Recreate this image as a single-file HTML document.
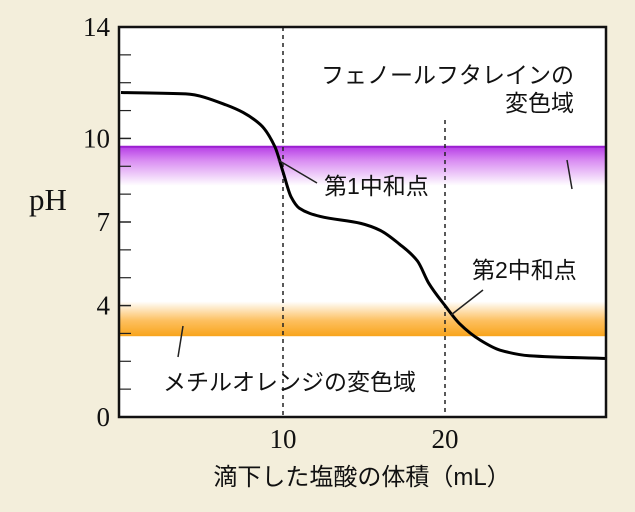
<!DOCTYPE html>
<html><head><meta charset="utf-8"><style>
html,body{margin:0;padding:0;background:#f3eedb;}
svg{display:block;}
.j{font-family:"Liberation Sans","Noto Sans CJK JP",sans-serif;font-size:23px;fill:#111;}
.s{font-family:"Liberation Serif","DejaVu Serif",serif;font-size:27px;fill:#111;}
</style></head><body>
<svg id="c" width="635" height="512" viewBox="0 0 635 512">
<defs>
<linearGradient id="pg" x1="0" y1="0" x2="0" y2="1"><stop offset="0" stop-color="#b73ee6"/><stop offset="0.35" stop-color="#d98cf2"/><stop offset="1" stop-color="#ffffff"/></linearGradient>
<linearGradient id="og" x1="0" y1="0" x2="0" y2="1"><stop offset="0" stop-color="#ffffff"/><stop offset="0.55" stop-color="#fdc060"/><stop offset="1" stop-color="#f8a41c"/></linearGradient>
</defs>
<g id="plot"></g>
</svg>
<script>
const volumes=[0,4,6.5,8.6,9.5,10,10.5,11,12.3,14.8,16,17.2,18.3,19,20,20.9,22.2,23.4,25.2,30];
const phValues=[11.65,11.6,11.2,10.5,9.7,8.8,7.9,7.5,7.2,6.95,6.7,6.2,5.6,4.8,4.0,3.35,2.75,2.4,2.2,2.1];
const yTickLabels=["0","4","7","10","14"];
const xTickLabels=["10","20"];
const phenolRange=[8.3,9.7];
const methylRange=[2.9,4.0];
const X0=121,X1=607,Y0=417,Y1=27;
const xs=v=>X0+(X1-X0)*v/30;
const ys=p=>Y0-(Y0-Y1)*p/14;
const NS="http://www.w3.org/2000/svg";
const g=document.getElementById('plot');
function mk(t,a,p){const e=document.createElementNS(NS,t);for(const k in a)e.setAttribute(k,a[k]);(p||g).appendChild(e);return e;}
let e;
e=mk('rect',{x:119,y:27,width:487,height:390,fill:'#fff'});

e=mk('rect',{x:119,y:ys(phenolRange[1]),width:487,height:ys(phenolRange[0])-ys(phenolRange[1]),fill:'url(#pg)'});

e=mk('line',{x1:119,x2:606,y1:ys(phenolRange[1]),y2:ys(phenolRange[1]),stroke:'#9b1fd0','stroke-width':2});

e=mk('rect',{x:119,y:ys(methylRange[1]+0.15),width:487,height:ys(methylRange[0])-ys(methylRange[1]+0.15),fill:'url(#og)'});

e=mk('line',{x1:xs(10),x2:xs(10),y1:27,y2:417,stroke:'#222','stroke-width':1.5,'stroke-dasharray':'4,4'});

e=mk('line',{x1:xs(20),x2:xs(20),y1:120,y2:417,stroke:'#222','stroke-width':1.5,'stroke-dasharray':'4,4'});

for(let p=1;p<14;p++){if([4,7,10].includes(p))continue;
 e=mk('line',{x1:119,x2:131,y1:ys(p),y2:ys(p),stroke:'#222','stroke-width':1.2});
 }
yTickLabels.forEach(l=>{const p=+l;
 e=mk('line',{x1:119,x2:131,y1:ys(p),y2:ys(p),stroke:'#222','stroke-width':1.5});
 
 e=mk('text',{x:110,y:ys(p)+9,'text-anchor':'end',class:'s'});e.textContent=l;
 });
xTickLabels.forEach(l=>{e=mk('text',{x:xs(+l),y:448,'text-anchor':'middle',class:'s'});e.textContent=l;
 });
// monotone cubic curve
const P=volumes.map((v,i)=>[xs(v),ys(phValues[i])]);
const n=P.length,dk=[],m=[];
for(let i=0;i<n-1;i++)dk.push((P[i+1][1]-P[i][1])/(P[i+1][0]-P[i][0]));
m[0]=dk[0];m[n-1]=dk[n-2];
for(let i=1;i<n-1;i++){if(dk[i-1]*dk[i]<=0)m[i]=0;else{const h0=P[i][0]-P[i-1][0],h1=P[i+1][0]-P[i][0];
 const w1=2*h1+h0,w2=h1+2*h0;m[i]=(w1+w2)/(w1/dk[i-1]+w2/dk[i]);}}
let d='M'+P[0][0]+','+P[0][1];
for(let i=0;i<n-1;i++){const h=(P[i+1][0]-P[i][0])/3;
 d+=` C${P[i][0]+h},${P[i][1]+m[i]*h} ${P[i+1][0]-h},${P[i+1][1]-m[i+1]*h} ${P[i+1][0]},${P[i+1][1]}`;}
e=mk('path',{d:d,fill:'none',stroke:'#000','stroke-width':3});

e=mk('rect',{x:119,y:27,width:487,height:390,fill:'none',stroke:'#111','stroke-width':2.5});

const lines=[[278,160,317,183],[451,315,483,290],[567,160,572,189],[183,326,178,357]];
const lnames=['eq1-leader','eq2-leader','phenol-leader','methyl-leader'];
lines.forEach((l,i)=>{e=mk('line',{x1:l[0],y1:l[1],x2:l[2],y2:l[3],stroke:'#222','stroke-width':1.5});
 });
const texts=[[324,194,'start','第1中和点','eq1-label'],[472,278,'start','第2中和点','eq2-label'],
 [574,83,'end','フェノールフタレインの','phenol-label-1'],[574,111,'end','変色域','phenol-label-2'],
 [163,390,'start','メチルオレンジの変色域','methyl-label']];
texts.forEach(t=>{e=mk('text',{x:t[0],y:t[1],'text-anchor':t[2],class:'j'});e.textContent=t[3];
 });
e=mk('text',{x:48,y:210,'text-anchor':'middle',class:'s',style:'font-size:31px'});e.textContent='pH';

e=mk('text',{x:362,y:485,'text-anchor':'middle',class:'j',style:'font-size:24px'});e.textContent='滴下した塩酸の体積（mL）';

</script>
</body></html>
